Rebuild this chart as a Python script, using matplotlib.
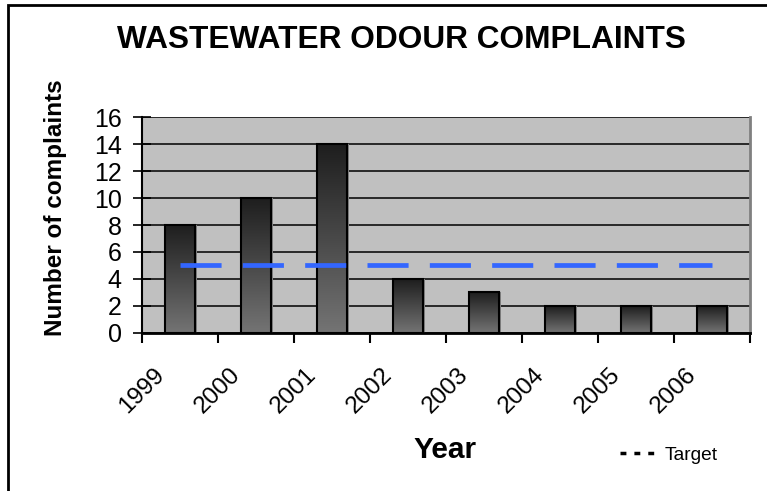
import numpy as np
import matplotlib
matplotlib.use("Agg")
import matplotlib.pyplot as plt
from matplotlib.colors import LinearSegmentedColormap
from matplotlib.lines import Line2D
from matplotlib.patches import Rectangle

plt.rcParams['font.family'] = ['Liberation Sans', 'DejaVu Sans']

years = ['1999', '2000', '2001', '2002', '2003', '2004', '2005', '2006']
complaints = [8, 10, 14, 4, 3, 2, 2, 2]
target = [5, 5, 5, 5, 5, 5, 5, 5]

fig = plt.figure(figsize=(7.67, 4.91), dpi=100)
ax = fig.add_axes([0.1851, 0.3218, 0.7927, 0.4399])
ax.set_facecolor('#c0c0c0')

# outer frame of the chart
fig.patches.append(Rectangle((8 / 767, -0.1), 1.2, 1 - 5 / 491 + 0.1,
                             transform=fig.transFigure, fill=False,
                             edgecolor='black', linewidth=2))

x = np.arange(len(years))
w = 0.39

# shadow behind the bars
ax.bar(x + 0.035, complaints, width=w, color='#808080', zorder=2)
bars = ax.bar(x, complaints, width=w, color='none', edgecolor='black',
              linewidth=1.5, zorder=4)

cmap = LinearSegmentedColormap.from_list('bargrad', ['#747474', '#1e1e1e'])
grad = np.linspace(0, 1, 256).reshape(-1, 1)
for b in bars:
    x0, y0 = b.get_x(), b.get_y()
    im = ax.imshow(grad, cmap=cmap, aspect='auto', origin='lower',
                   extent=(x0, x0 + b.get_width(), y0, y0 + b.get_height()),
                   zorder=3)
    im.set_clip_path(b)

ax.plot(x, target, color='#3366ff', linewidth=3.4,
        linestyle=(0, (8.7, 4.5)), zorder=5)

ax.set_xlim(-0.5, 7.5)
ax.set_ylim(0, 16)
ax.set_yticks(range(0, 17, 2))
ax.yaxis.grid(True, color='black', linewidth=1.1)
ax.set_axisbelow(True)

ax.set_xticks(np.arange(len(years) + 1) - 0.5)
ax.set_xticklabels(years + [''], rotation=45, ha='center', va='top')
ax.tick_params(axis='x', direction='out', length=7, width=1.5, pad=15,
               labelsize=17.5)
ax.tick_params(axis='y', direction='inout', length=13, width=1.2, pad=8,
               labelsize=18)

ax.spines['top'].set_visible(False)
ax.spines['right'].set_color('#808080')
ax.spines['right'].set_linewidth(2)
ax.spines['left'].set_linewidth(1.5)
ax.spines['bottom'].set_linewidth(2)

ax.set_ylabel('Number of complaints', fontsize=17.5, fontweight='bold')
ax.yaxis.set_label_coords(-0.124, 0.58)
fig.text(0.58, 0.084, 'Year', fontsize=21.5, fontweight='bold',
         ha='center', va='center')
fig.text(0.524, 0.918, 'WASTEWATER ODOUR COMPLAINTS', fontsize=22.8,
         fontweight='bold', ha='center', va='center')

handle = Line2D([], [], color='black', linewidth=2.5, linestyle=(0, (1.7, 2.3)))
fig.legend([handle], ['Target'], loc='center', bbox_to_anchor=(0.872, 0.073),
           frameon=False, fontsize=13.8, handlelength=1.8, handletextpad=0.5)

fig.savefig('out.png', dpi=100)
